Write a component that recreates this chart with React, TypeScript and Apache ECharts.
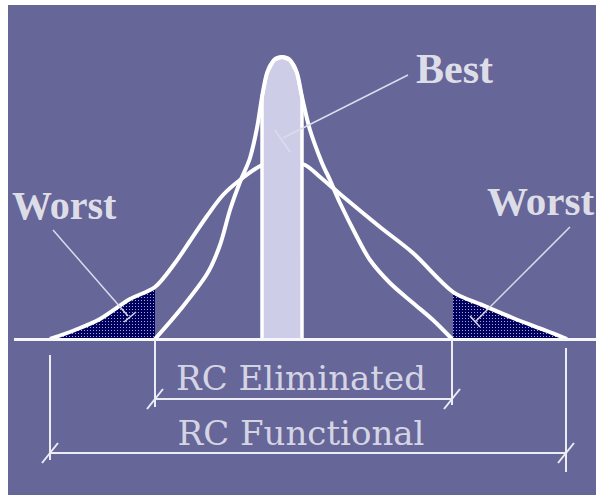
import React, { useEffect, useRef } from "react";
import * as echarts from "echarts";

// Coordinates: x = horizontal position along the axis, y = height above the baseline
const wideCurve: [number, number][] = [
  [50, 0], [75, 9], [100, 20], [130, 40], [155, 52], [175, 76], [190, 98],
  [207, 123], [223, 144], [240, 159], [262, 174], [282, 179], [305, 174],
  [320, 162], [340, 145], [380, 112], [413, 86], [453, 47], [480, 35],
  [513, 21], [547, 8], [567, 0],
];

const tallCurve: [number, number][] = [
  [155, 0], [180, 29], [207, 65], [220, 94], [230, 129], [240, 157],
  [250, 181], [257, 211], [262, 242], [267, 266], [274, 279], [282, 282],
  [290, 279], [297, 266], [302, 242], [310, 209], [322, 176], [330, 159],
  [340, 136], [357, 102], [370, 79], [390, 56], [413, 36], [433, 19], [452, 0],
];

const bestBand = [262, 302];
const worstLeftEnd = 155;
const worstRightStart = 453;
const baselineExtent = [14, 596];

const eliminatedRange = [155, 452];
const eliminatedDimY = -60;
const eliminatedExt = [[0, -68], [0, -66]];
const functionalRange = [50, 566];
const functionalDimY = -114;
const functionalExt = [[-16, -121], [-9, -133]];

const leaderLines: [number, number][][] = [
  [[53, 109], [128, 23]],
  [[124, 17], [136, 27]],
  [[570, 112], [475, 17]],
  [[470, 23], [480, 12]],
  [[408, 264], [283, 201]],
  [[275, 209], [290, 187]],
];

const labelTexts = ["Worst", "Worst", "Best", "RC Eliminated", "RC Functional"];
const labelX = [12, 487, 416, 301, 301];
const labelY = [134, 138, 270, -39, -94];
const labelAlign = ["left", "left", "left", "center", "center"];
const labelFont = ["Liberation Serif", "Liberation Serif", "Liberation Serif", "DejaVu Serif", "DejaVu Serif"];
const labelSize = [40, 41, 42, 34, 34];
const labelWeight = ["bold", "bold", "bold", "normal", "normal"];

export default function App() {
  const ref = useRef<HTMLDivElement>(null);
  useEffect(() => {
    if (!ref.current) return;
    const chart = echarts.init(ref.current, null, { renderer: "svg" });

    const cv = document.createElement("canvas");
    cv.width = 3;
    cv.height = 3;
    const ctx = cv.getContext("2d")!;
    ctx.fillStyle = "#00005e";
    ctx.fillRect(0, 0, 3, 3);
    ctx.fillStyle = "#a8a8d4";
    ctx.fillRect(1, 1, 1, 1);
    const pattern: any = { image: cv, repeat: "repeat", imageWidth: 3, imageHeight: 3 };

    const leftWorst = wideCurve.filter((p) => p[0] <= worstLeftEnd);
    const rightWorst = wideCurve.filter((p) => p[0] >= worstRightStart);
    const bar = [
      [bestBand[0], 0],
      ...tallCurve.filter((p) => p[0] >= bestBand[0] && p[0] <= bestBand[1]),
      [bestBand[1], 0],
    ];

    const slash = (x: number, y: number) => [[x - 8, y - 10], [x + 8, y + 10]];
    const dims: number[][][] = [
      [[eliminatedRange[0], eliminatedExt[0][0]], [eliminatedRange[0], eliminatedExt[0][1]]],
      [[eliminatedRange[1], eliminatedExt[1][0]], [eliminatedRange[1], eliminatedExt[1][1]]],
      [[eliminatedRange[0], eliminatedDimY], [eliminatedRange[1], eliminatedDimY]],
      slash(eliminatedRange[0], eliminatedDimY),
      slash(eliminatedRange[1], eliminatedDimY),
      [[functionalRange[0], functionalExt[0][0]], [functionalRange[0], functionalExt[0][1]]],
      [[functionalRange[1], functionalExt[1][0]], [functionalRange[1], functionalExt[1][1]]],
      [[functionalRange[0], functionalDimY], [functionalRange[1], functionalDimY]],
      slash(functionalRange[0], functionalDimY),
      slash(functionalRange[1], functionalDimY),
    ];

    const curveLine = (data: any, z: number) => ({
      type: "line",
      data,
      smooth: 0.3,
      symbol: "none",
      lineStyle: { color: "#ffffff", width: 4 },
      z,
      silent: true,
    });

    chart.setOption({
      animation: false,
      backgroundColor: "#666699",
      grid: { left: 0, right: 0, top: 0, bottom: 0, containLabel: false },
      xAxis: { type: "value", min: 8, max: 596, show: false },
      yAxis: { type: "value", min: -156, max: 334, show: false },
      series: [
        {
          type: "line",
          data: leftWorst,
          smooth: 0.3,
          symbol: "none",
          lineStyle: { width: 0 },
          areaStyle: { color: pattern, opacity: 1 },
          z: 1,
          silent: true,
        },
        {
          type: "line",
          data: rightWorst,
          smooth: 0.3,
          symbol: "none",
          lineStyle: { width: 0 },
          areaStyle: { color: pattern, opacity: 1 },
          z: 1,
          silent: true,
        },
        curveLine(wideCurve, 2),
        {
          type: "line",
          data: bar,
          symbol: "none",
          lineStyle: { color: "#ffffff", width: 3.5 },
          areaStyle: { color: "#cdcde8", opacity: 1 },
          z: 3,
          silent: true,
        },
        curveLine(tallCurve, 4),
        {
          type: "lines",
          coordinateSystem: "cartesian2d",
          polyline: false,
          data: [{ coords: [[baselineExtent[0], 0], [baselineExtent[1], 0]] }],
          lineStyle: { color: "#f6f6fb", width: 3, opacity: 1 },
          z: 5,
          silent: true,
        },
        {
          type: "lines",
          coordinateSystem: "cartesian2d",
          polyline: false,
          data: dims.map((c) => ({ coords: c })),
          lineStyle: { color: "#ececf4", width: 2, opacity: 1 },
          z: 5,
          silent: true,
        },
        {
          type: "lines",
          coordinateSystem: "cartesian2d",
          polyline: false,
          data: leaderLines.map((c) => ({ coords: c })),
          lineStyle: { color: "#dcdcec", width: 1.5, opacity: 1 },
          z: 6,
          silent: true,
        },
        {
          type: "scatter",
          symbolSize: 0,
          z: 7,
          silent: true,
          data: labelTexts.map((t, i) => ({
            value: [labelX[i], labelY[i]],
            label: {
              show: true,
              position: "inside",
              formatter: t,
              align: labelAlign[i],
              verticalAlign: "middle",
              fontFamily: labelFont[i],
              fontSize: labelSize[i],
              fontWeight: labelWeight[i],
              color: i < 3 ? "#ffffff" : "#f4f4fa",
            },
          })),
        },
      ],
    });
    return () => chart.dispose();
  }, []);

  return (
    <div style={{ position: "fixed", left: 0, top: 0, width: 596, height: 495, background: "#ffffff" }}>
      <div ref={ref} style={{ position: "absolute", left: 8, top: 5, width: 588, height: 490 }} />
    </div>
  );
}
